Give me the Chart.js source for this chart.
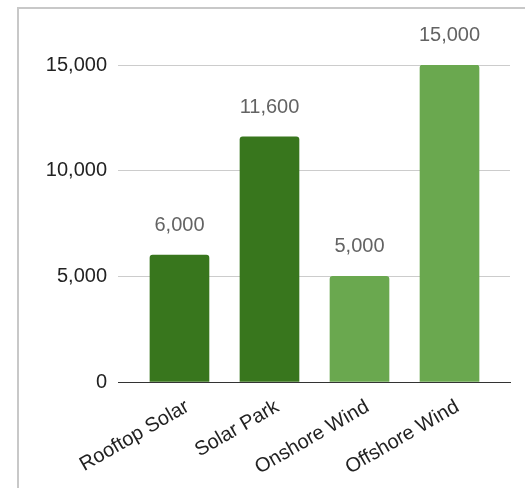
<!DOCTYPE html>
<html>
<head>
<meta charset="utf-8">
<script src="https://cdn.jsdelivr.net/npm/chart.js@4/dist/chart.umd.min.js"></script>
<style>
  html, body { margin: 0; padding: 0; background: #ffffff; }
  #wrap { position: relative; width: 525px; height: 488px; overflow: hidden; }
  #frame {
    position: absolute; left: 17px; top: 7px; width: 700px; height: 700px;
    border-left: 2px solid #c8c8c8; border-top: 2px solid #c8c8c8;
  }
  #chart { position: absolute; left: 0; top: 0; }
</style>
</head>
<body>
<div id="wrap">
  <div id="frame"></div>
  <canvas id="chart" width="525" height="488"></canvas>
</div>
<script>
// Installed capacity by technology
const categories = ['Rooftop Solar', 'Solar Park', 'Onshore Wind', 'Offshore Wind'];
const capacity = [6000, 11600, 5000, 15000];
const barColors = ['#38761d', '#38761d', '#6aa84f', '#6aa84f'];
const yTicks = [0, 5000, 10000, 15000];

const FONT = '"Liberation Sans", Arial, sans-serif';
const fmt = v => v.toLocaleString('en-US');

// Value labels above each bar, positioned from the bar elements
const valueLabels = {
  id: 'valueLabels',
  afterDatasetsDraw(chart) {
    const ctx = chart.ctx;
    const meta = chart.getDatasetMeta(0);
    ctx.save();
    ctx.font = '20px ' + FONT;
    ctx.fillStyle = '#636363';
    ctx.textAlign = 'center';
    ctx.textBaseline = 'alphabetic';
    meta.data.forEach((bar, i) => {
      ctx.fillText(fmt(capacity[i]), bar.x, bar.y - 24);
    });
    ctx.restore();
  }
};

new Chart(document.getElementById('chart'), {
  type: 'bar',
  data: {
    datasets: [{
      data: categories.map((c, i) => ({ x: i, y: capacity[i] })),
      backgroundColor: barColors,
      barThickness: 59,
      borderRadius: { topLeft: 3, topRight: 3, bottomLeft: 0, bottomRight: 0 },
      borderSkipped: 'bottom'
    }]
  },
  options: {
    responsive: false,
    animation: false,
    layout: { padding: { top: 65, right: 15, left: 0, bottom: 0 } },
    plugins: { legend: { display: false }, tooltip: { enabled: false } },
    scales: {
      x: {
        type: 'linear',
        offset: false,
        min: -0.683,
        max: 3.672,
        afterBuildTicks(scale) { scale.ticks = categories.map((c, i) => ({ value: i })); },
        afterFit(scale) { scale.height = 106; },
        grid: { display: false, drawTicks: false, offset: false },
        border: { display: true, color: '#333333', width: 1 },
        ticks: {
          autoSkip: false,
          minRotation: 30,
          maxRotation: 30,
          padding: 13,
          labelOffset: 8,
          color: '#222222',
          font: { family: FONT, size: 20 },
          callback: v => categories[v]
        }
      },
      y: {
        min: 0,
        max: 15000,
        afterBuildTicks(scale) { scale.ticks = yTicks.map(v => ({ value: v })); },
        afterFit(scale) { scale.width = 118; },
        grid: {
          drawTicks: false,
          color: ctx => (ctx.tick && ctx.tick.value === 0) ? 'rgba(0,0,0,0)' : '#cccccc',
          lineWidth: 1
        },
        border: { display: false },
        ticks: {
          padding: 11,
          color: '#222222',
          font: { family: FONT, size: 20 },
          callback: v => fmt(v)
        }
      }
    }
  },
  plugins: [valueLabels]
});
</script>
</body>
</html>
